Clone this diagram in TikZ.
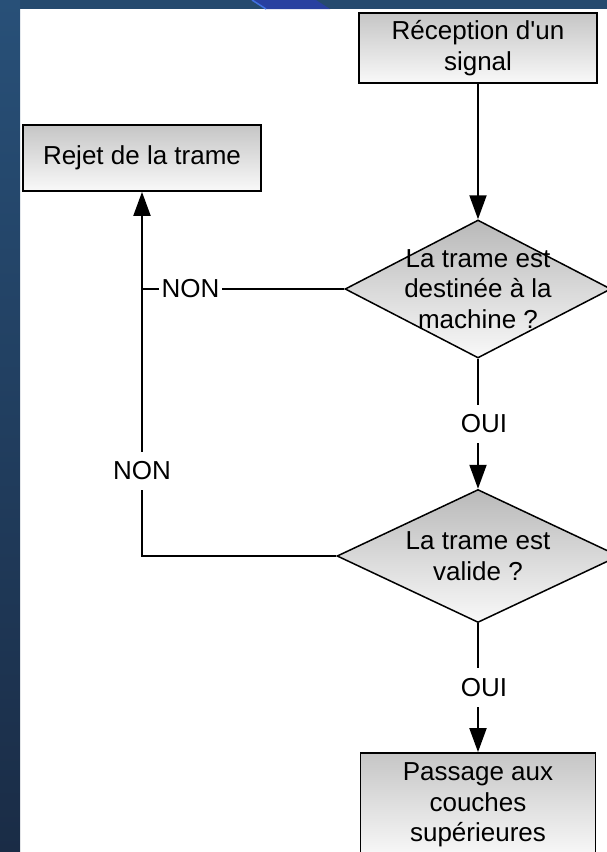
\documentclass[tikz,border=0pt]{standalone}
\usepackage{fontspec}
\setmainfont{Liberation Sans}
\usetikzlibrary{arrows.meta, calc, shapes.geometric}

\definecolor{bandblue}{RGB}{37,74,110}
\definecolor{stripeblue}{RGB}{40,64,160}
\definecolor{edgeblue}{RGB}{64,112,224}
\definecolor{striptop}{RGB}{40,80,120}
\definecolor{stripbottom}{RGB}{26,44,70}

\begin{document}
\begin{tikzpicture}[x=1pt, y=-1pt,
                    font=\fontsize{26}{30.5}\selectfont,
                    box/.style={rectangle, draw=black, line width=1.8pt, top color=gray!45, bottom color=gray!5,
                                minimum width=238pt, align=center, inner sep=0pt},
                    decision/.style={diamond, draw=black, line width=1.5pt, top color=gray!55, bottom color=gray!5,
                                     inner sep=0pt},
                    flow/.style={-{Triangle[length=24pt, width=17pt]}, line width=2pt},
                    link/.style={line width=2pt},
                    answer/.style={fill=white, inner xsep=3pt, inner ysep=10pt}]

    \useasboundingbox (0,0) rectangle (607,852);
    \clip (0,0) rectangle (607,852);

    % background
    \fill[white] (0,0) rectangle (607,852);
    \fill[bandblue] (0,0) rectangle (607,9);
    \fill[stripeblue] (252,0) -- (266,9) -- (330,9) -- (316,0) -- cycle;
    \draw[edgeblue, line width=1.5pt] (252,0) -- (266,9);
    \shade[top color=striptop, bottom color=stripbottom] (0,0) rectangle (20,852);

    % boxes
    \node[box, minimum height=70pt] (recv) at (478,48) {R\'eception d\textquotesingle un\\signal};
    \node[box, minimum height=66pt] (rejet) at (142,158) {Rejet de la trame};
    \node[box, minimum width=235pt, minimum height=104pt] (pass) at (478,805) {Passage aux\\couches\\sup\'erieures};

    % decisions
    \node[decision, minimum width=266pt, minimum height=138pt,
          label={[align=center]center:{La trame est\\destin\'ee \`a la\\machine ?}}] (d1) at (478,289) {};
    \node[decision, minimum width=282pt, minimum height=133pt,
          label={[align=center]center:{La trame est\\valide ?}}] (d2) at (478,556) {};

    % connectors
    \draw[flow] (recv.south) -- (d1.north);
    \draw[flow] (d1.south) -- node[answer, xshift=6pt] {OUI} (d2.north);
    \draw[flow] (d2.south) -- node[answer, xshift=6pt] {OUI} (pass.north);

    \coordinate (c2) at (rejet.south |- d2.west);
    \draw[flow] (d2.west) -- (c2) -- node[answer, pos=0.234] {NON} (rejet.south);
    \draw[link] (d1.west) -- node[answer, inner ysep=4pt, pos=0.76] {NON} (rejet.south |- d1.west);
\end{tikzpicture}
\end{document}
